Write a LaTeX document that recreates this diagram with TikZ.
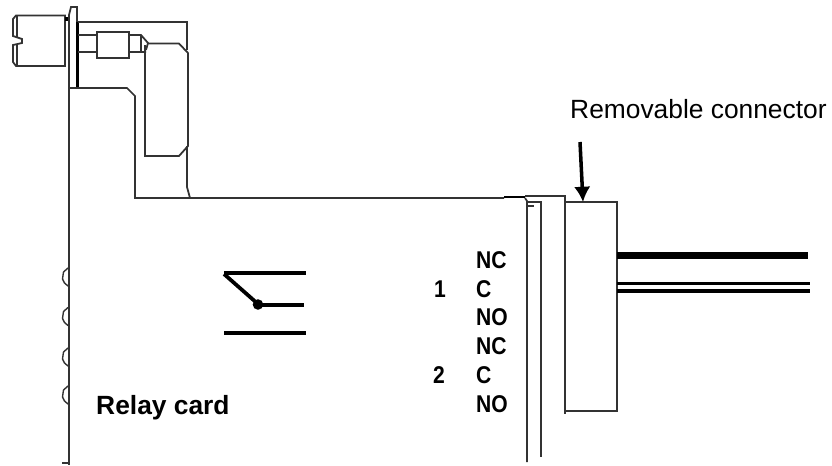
\documentclass[tikz,border=0pt]{standalone}
\usepackage{fontspec}
\setmainfont{Liberation Sans}
\usepackage{tikz}
\usetikzlibrary{arrows.meta}

\tikzset{
  outline/.style={draw=black!80, line width=1.5pt},
  contact/.style={draw=black, line width=3.2pt},
  terminal/.style={font=\fontsize{18}{18}\bfseries\selectfont, anchor=west, inner sep=0pt, yscale=1.15, transform shape},
  caption/.style={font=\fontsize{22.5}{24}\selectfont, anchor=west, inner sep=0pt},
}

\begin{document}
\begin{tikzpicture}[x=0.03cm, y=-0.03cm]
  \useasboundingbox (0,0) rectangle (832,465);

  % Draw card edge and mounting plate
  \draw[outline] (69,15) -- (69,465) (62,463) -- (69,463);
  \draw[outline] (69,15) -- (71,7) -- (77,7) -- (77,22);
  \draw[line width=2.8pt] (77.5,22) -- (77.5,88);
  \draw[outline] (69,88) -- (127,88) -- (135,96) -- (135,198) -- (504,198);

  % Draw screw
  \draw[outline] (65,15.5) -- (16,15.5) -- (13,19) -- (13,36) -- (22,39) -- (22,43) -- (13,45) -- (13,62) -- (16,66) -- (65,66) -- cycle;
  \draw[outline] (17,15.5) -- (17,37) (17,44) -- (17,66);
  \draw[line width=2.6pt] (66.5,17) -- (66.5,21);
  \draw[outline] (78,35) -- (97,35) (78,52) -- (97,52);
  \draw[outline] (97,32) rectangle (129,58);
  \draw[outline] (129,35) -- (141,35) -- (148,43) -- (146,50) (129,52) -- (146,52) (141,35) -- (141,52);

  % Draw bracket
  \draw[outline] (78,22) -- (187,22) -- (187,50);
  \draw[outline] (148,43.5) -- (179,43.5) -- (188,53) -- (188,146) -- (179,156) -- (145,156) -- (145,45);
  \draw[outline] (187,146) -- (187,187) -- (190,198);

  % Draw notches on the card edge
  \foreach \notch in {277,316.5,357,395}
    \draw[outline, line width=1.2pt] (68,\notch-9) -- (63.5,\notch-5) -- (62.5,\notch+2) -- (64.5,\notch+6) -- (68,\notch+9);

  % Draw card connector
  \draw[line width=2.4pt] (504,197) -- (525,197);
  \draw[outline] (525,196) -- (565,196) -- (565,414);
  \draw[outline] (525,198) -- (527,201) -- (527,462);
  \draw[outline] (527,202) -- (541,202) -- (541,457);
  \draw[outline] (528,206) -- (534,206);

  % Draw removable connector
  \draw[outline] (565,202) -- (617,202) -- (617,411) -- (565,411);

  % Draw wires
  \draw[line width=6pt] (617,255.5) -- (808,255.5);
  \draw[line width=2.6pt] (617,283.5) -- (810,283.5);
  \draw[line width=2.6pt] (617,291) -- (810,291);

  % Draw relay contact
  \draw[contact] (224,273) -- (306,273);
  \draw[contact] (224,333) -- (306,333);
  \draw[contact] (258,305) -- (304,305);
  \draw[contact] (224,274) -- (258,304);
  \fill (258,304.5) circle (4.5pt);

  % Draw terminal labels
  \node[terminal] (nc1) at (476,260) {NC};
  \node[terminal] (c1) at (476,289) {C};
  \node[terminal] (no1) at (476,317) {NO};
  \node[terminal] (nc2) at (476,346) {NC};
  \node[terminal] (c2) at (476,375) {C};
  \node[terminal] (no2) at (476,404) {NO};
  \node[terminal] (one) at (434,289) {1};
  \node[terminal] (two) at (433,375) {2};

  % Draw captions
  \node[caption, font=\fontsize{22.5}{24}\bfseries\selectfont] (card) at (96,408) {Relay card};
  \node[caption] (plug) at (570,109) {Removable connector};

  % Draw arrow to the connector
  \coordinate (plugtop) at (583,202);
  \coordinate (plugtail) at (580,142);
  \draw[-{Latex[length=13pt,width=14pt]}, line width=3pt] (plugtail) -- (plugtop);
\end{tikzpicture}
\end{document}
